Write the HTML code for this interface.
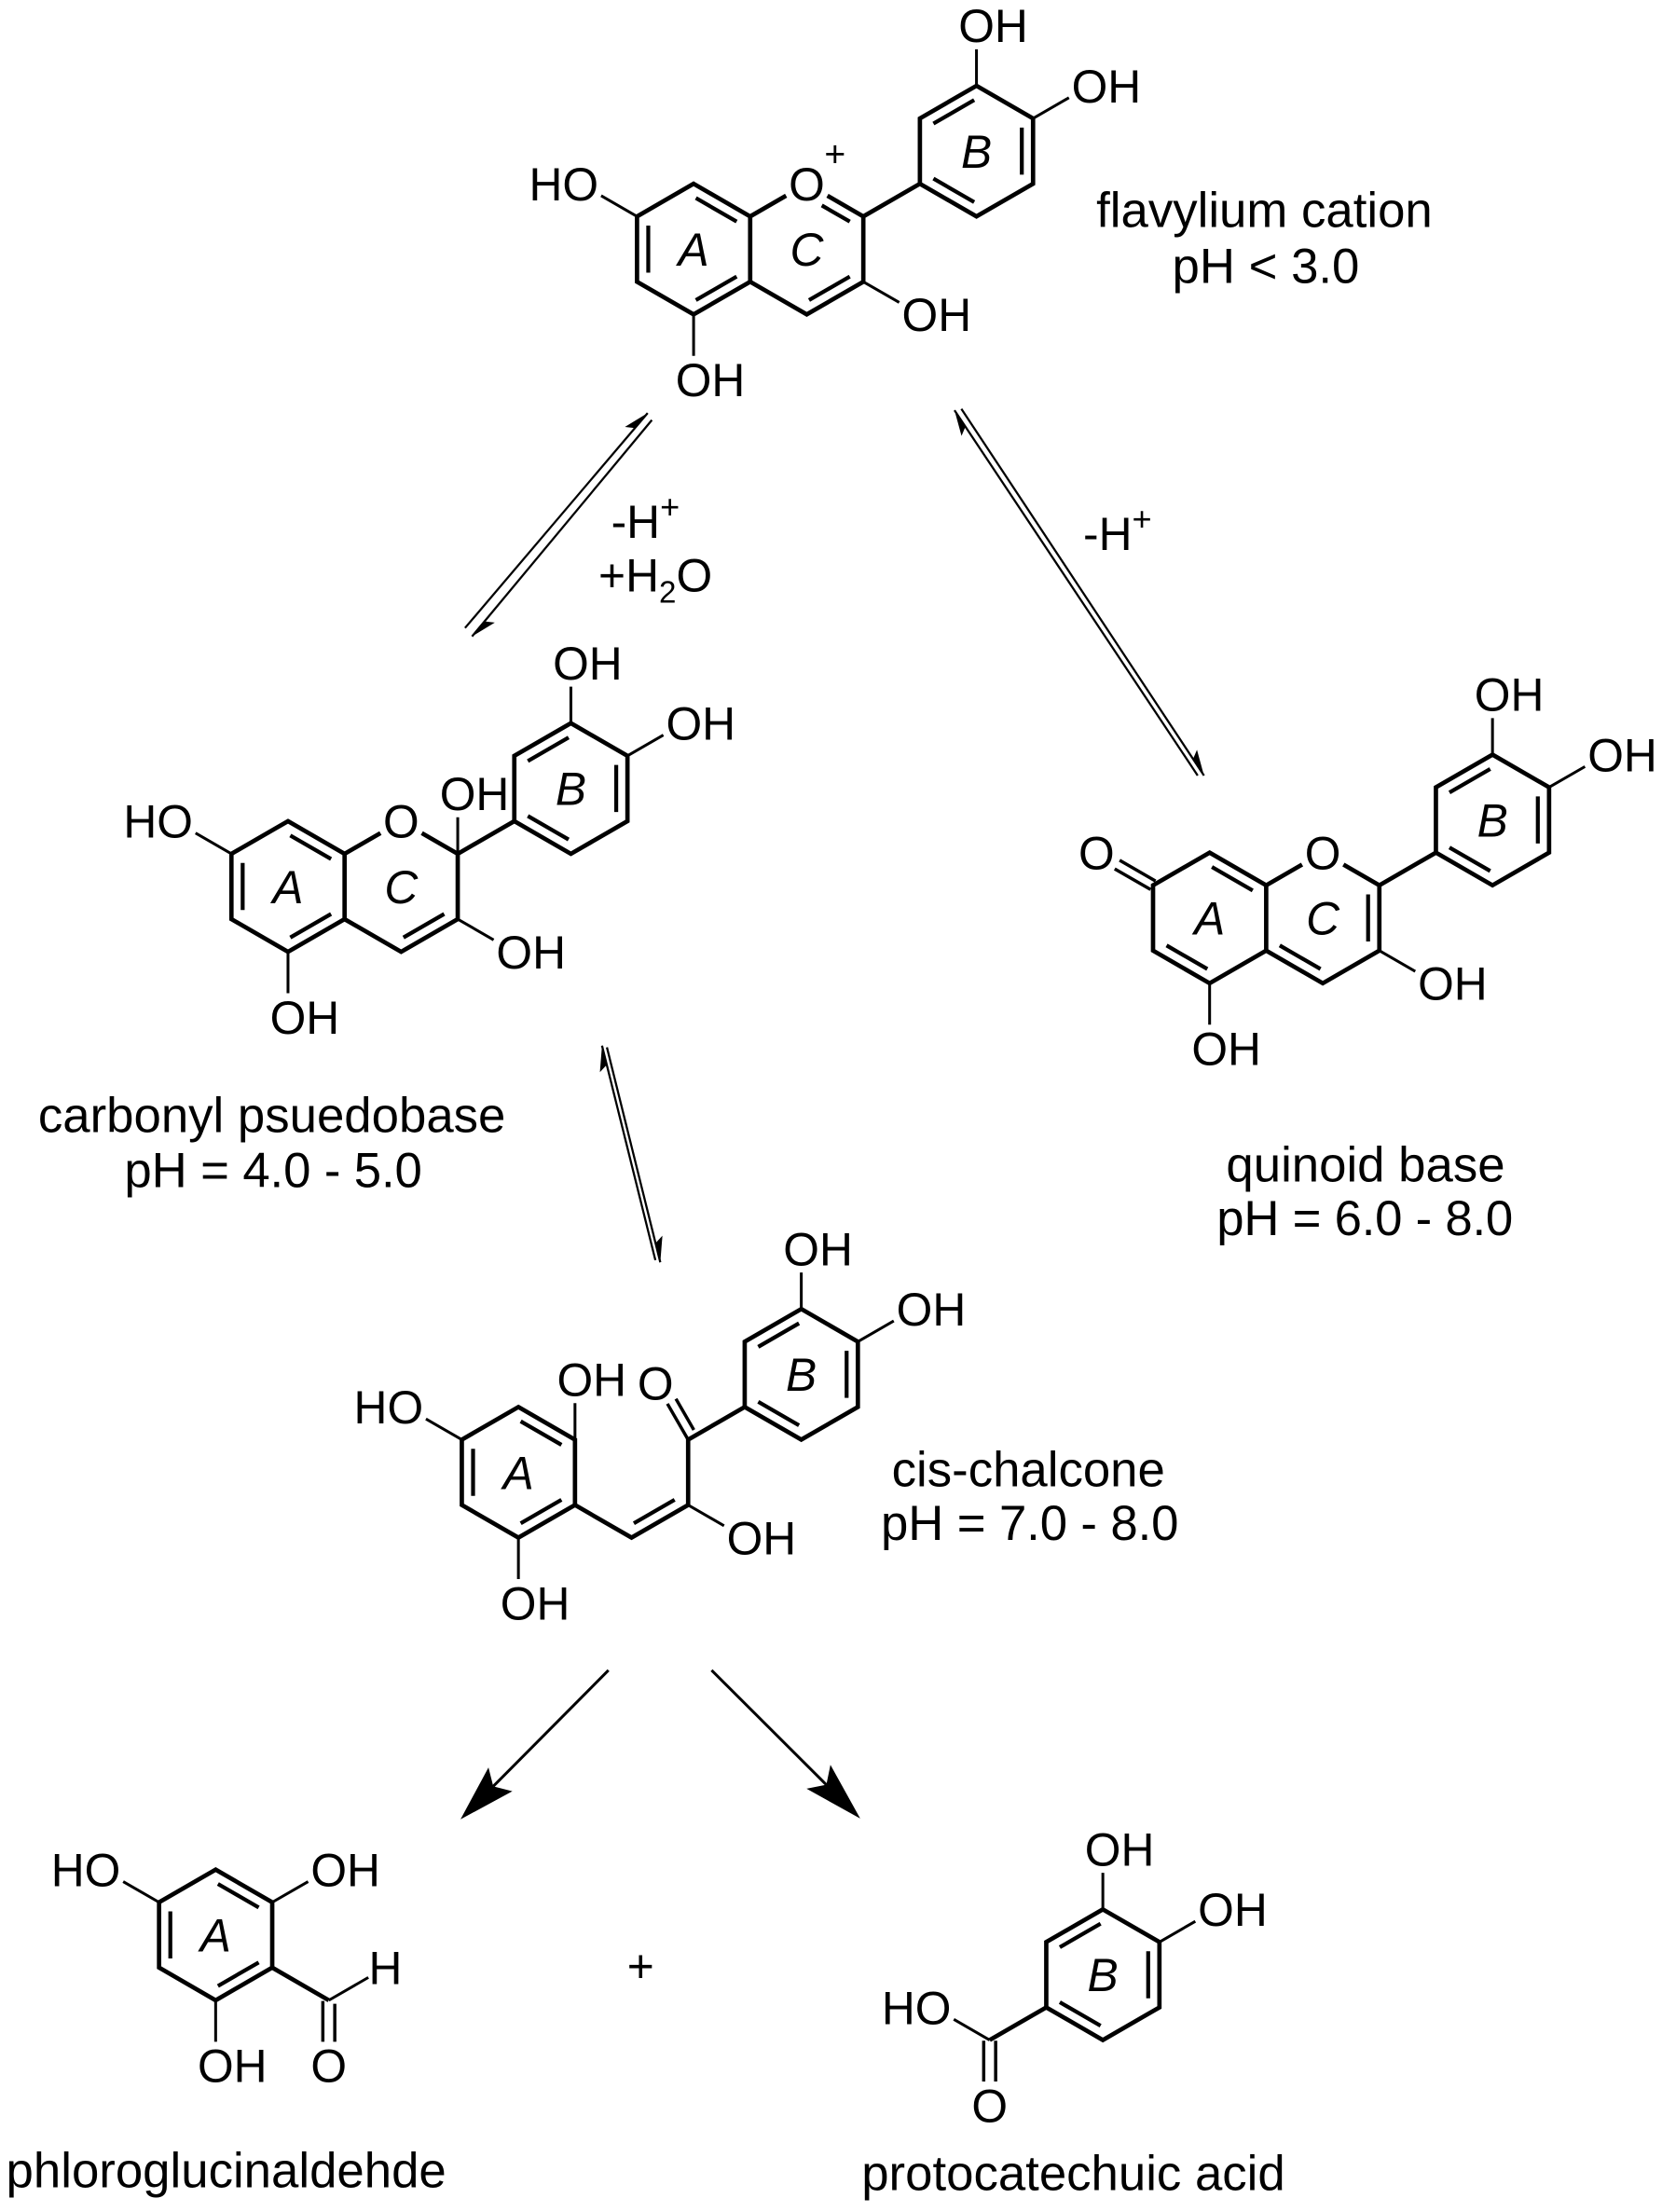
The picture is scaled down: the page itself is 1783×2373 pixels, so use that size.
<!DOCTYPE html>
<html><head><meta charset="utf-8">
<style>
html,body{margin:0;padding:0;background:#fff;}
svg{display:block;}
text{font-family:"Liberation Sans",Arial,sans-serif;fill:#000;}
.b{stroke:#000;stroke-width:3.1;fill:none;stroke-linejoin:miter;}
.t{stroke:#000;stroke-width:2.0;fill:none;}
.i{stroke:#000;stroke-width:2.8;fill:none;}
.ar{stroke:#000;stroke-width:1.5;fill:none;}
.ab{stroke:#000;stroke-width:2.0;fill:none;}
.a{font-size:33px;}
.l{font-size:35px;}
.r{font-size:33px;font-style:italic;}
</style></head>
<body>
<svg width="1783" height="2373" viewBox="0 0 1183 1574.5" preserveAspectRatio="none" xmlns="http://www.w3.org/2000/svg">
<rect x="0" y="0" width="1183" height="1574.5" fill="#fff"/>

<!-- Flavylium cation -->
<g transform="translate(493.7,177.3)">
  <path class="b" d="M0,-46.5 L40.27,-23.25 L40.27,23.25 L0,46.5 L-40.27,23.25 L-40.27,-23.25 Z"/>
  <path class="b" transform="translate(201.35,-69.75)" d="M0,-46.5 L40.27,-23.25 L40.27,23.25 L0,46.5 L-40.27,23.25 L-40.27,-23.25 Z"/>
  <path class="b" d="M40.27,-23.25 L65.82,-38 M95.26,-38 L120.81,-23.25 L120.81,23.25 L80.54,46.5 L40.27,23.25 M120.81,-23.25 L161.08,-46.5"/>
  <path class="i" d="M-32.27,16.75 L-32.27,-16.75 M1.63,-36.32 L30.64,-19.57 M30.64,19.57 L1.63,36.32"/>
  <path class="i" d="M91.26,-31.07 L111.18,-19.57 M111.18,19.57 L82.17,36.32"/>
  <path class="i" d="M170.71,-89.32 L199.72,-106.07 M233.62,-86.5 L233.62,-53 M199.72,-33.43 L170.71,-50.18"/>
  <path class="t" d="M-40.27,-23.25 L-65.82,-38 M0,46.5 L0,76 M120.81,23.25 L146.36,38 M201.35,-116.25 L201.35,-142.25 M241.62,-93 L267.17,-107.75"/>
  <text class="a" x="-67.7" y="-34.7" text-anchor="end">HO</text>
  <text class="a" x="-12.84" y="104.8">OH</text>
  <text class="a" x="148.24" y="58.3">OH</text>
  <text class="a" x="188.51" y="-147.45">OH</text>
  <text class="a" x="269.05" y="-104.45">OH</text>
  <text class="a" x="80.54" y="-34.7" text-anchor="middle">O</text>
  <text x="100.7" y="-58.8" text-anchor="middle" style="font-size:26px">+</text>
  <text class="r" x="0" y="11.8" text-anchor="middle">A</text>
  <text class="r" x="80.54" y="11.8" text-anchor="middle">C</text>
  <text class="r" x="201.35" y="-57.95" text-anchor="middle">B</text>
</g>
<text class="l" x="900" y="161.5" text-anchor="middle">flavylium cation</text>
<text class="l" x="901" y="201.5" text-anchor="middle">pH &lt; 3.0</text>

<!-- Equilibrium arrows left -->
<line class="ar" x1="331" y1="447" x2="461" y2="294"/>
<polygon points="461,294 444.8,303.9 452,304.7" fill="#000"/>
<line class="ar" x1="336" y1="453" x2="464" y2="299"/>
<polygon points="336,453 352.2,443.1 345,442.3" fill="#000"/>
<text class="a" x="435" y="383">-H<tspan style="font-size:24px" dy="-14">+</tspan></text>
<text class="a" x="426" y="421">+H<tspan style="font-size:22px" dy="8">2</tspan><tspan dy="-8">O</tspan></text>

<!-- Equilibrium arrows right -->
<line class="ar" x1="679.4" y1="292" x2="852.5" y2="552"/>
<polygon points="679.4,292 684.4,310.3 687.2,303.7" fill="#000"/>
<line class="ar" x1="684.3" y1="291" x2="857" y2="552"/>
<polygon points="857,552 852,533.7 849.2,540.3" fill="#000"/>
<text class="a" x="771" y="391.5">-H<tspan style="font-size:24px" dy="-14">+</tspan></text>

<!-- Carbonyl pseudobase -->
<g transform="translate(205,631)">
  <path class="b" d="M0,-46.5 L40.27,-23.25 L40.27,23.25 L0,46.5 L-40.27,23.25 L-40.27,-23.25 Z"/>
  <path class="b" transform="translate(201.35,-69.75)" d="M0,-46.5 L40.27,-23.25 L40.27,23.25 L0,46.5 L-40.27,23.25 L-40.27,-23.25 Z"/>
  <path class="b" d="M40.27,-23.25 L65.82,-38 M95.26,-38 L120.81,-23.25 L120.81,23.25 L80.54,46.5 L40.27,23.25 M120.81,-23.25 L161.08,-46.5"/>
  <path class="i" d="M-32.27,16.75 L-32.27,-16.75 M1.63,-36.32 L30.64,-19.57 M30.64,19.57 L1.63,36.32"/>
  <path class="i" d="M111.18,19.57 L82.17,36.32"/>
  <path class="i" d="M170.71,-89.32 L199.72,-106.07 M233.62,-86.5 L233.62,-53 M199.72,-33.43 L170.71,-50.18"/>
  <path class="t" d="M-40.27,-23.25 L-65.82,-38 M0,46.5 L0,76 M120.81,23.25 L146.36,38 M201.35,-116.25 L201.35,-142.25 M241.62,-93 L267.17,-107.75 M120.81,-23.25 L120.81,-49.25"/>
  <text class="a" x="-67.7" y="-34.7" text-anchor="end">HO</text>
  <text class="a" x="-12.84" y="104.8">OH</text>
  <text class="a" x="148.24" y="58.3">OH</text>
  <text class="a" x="188.51" y="-147.45">OH</text>
  <text class="a" x="269.05" y="-104.45">OH</text>
  <text class="a" x="107.97" y="-54.45">OH</text>
  <text class="a" x="80.54" y="-34.7" text-anchor="middle">O</text>
  <text class="r" x="0" y="11.8" text-anchor="middle">A</text>
  <text class="r" x="80.54" y="11.8" text-anchor="middle">C</text>
  <text class="r" x="201.35" y="-57.95" text-anchor="middle">B</text>
</g>
<text class="l" x="193.5" y="806" text-anchor="middle">carbonyl psuedobase</text>
<text class="l" x="194.5" y="845" text-anchor="middle" textLength="212" lengthAdjust="spacing">pH = 4.0 - 5.0</text>

<!-- Quinoid base -->
<g transform="translate(861,653.4)">
  <path class="b" d="M0,-46.5 L40.27,-23.25 L40.27,23.25 L0,46.5 L-40.27,23.25 L-40.27,-23.25 Z"/>
  <path class="b" transform="translate(201.35,-69.75)" d="M0,-46.5 L40.27,-23.25 L40.27,23.25 L0,46.5 L-40.27,23.25 L-40.27,-23.25 Z"/>
  <path class="b" d="M40.27,-23.25 L65.82,-38 M95.26,-38 L120.81,-23.25 L120.81,23.25 L80.54,46.5 L40.27,23.25 M120.81,-23.25 L161.08,-46.5"/>
  <path class="i" d="M1.63,-36.32 L30.64,-19.57 M-1.63,36.32 L-30.64,19.57"/>
  <path class="i" d="M112.81,-16.75 L112.81,16.75 M78.91,36.32 L49.9,19.57"/>
  <path class="i" d="M170.71,-89.32 L199.72,-106.07 M233.62,-86.5 L233.62,-53 M199.72,-33.43 L170.71,-50.18"/>
  <path class="t" style="stroke-width:2.3" d="M-38.52,-26.28 L-64.07,-41.03 M-42.02,-20.22 L-67.57,-34.97"/>
  <path class="t" d="M0,46.5 L0,76 M120.81,23.25 L146.36,38 M201.35,-116.25 L201.35,-142.25 M241.62,-93 L267.17,-107.75"/>
  <text class="a" x="-80.54" y="-34.7" text-anchor="middle">O</text>
  <text class="a" x="-12.84" y="104.8">OH</text>
  <text class="a" x="148.24" y="58.3">OH</text>
  <text class="a" x="188.51" y="-147.45">OH</text>
  <text class="a" x="269.05" y="-104.45">OH</text>
  <text class="a" x="80.54" y="-34.7" text-anchor="middle">O</text>
  <text class="r" x="0" y="11.8" text-anchor="middle">A</text>
  <text class="r" x="80.54" y="11.8" text-anchor="middle">C</text>
  <text class="r" x="201.35" y="-57.95" text-anchor="middle">B</text>
</g>
<text class="l" x="972" y="841" text-anchor="middle">quinoid base</text>
<text class="l" x="971.5" y="879" text-anchor="middle" textLength="211" lengthAdjust="spacing">pH = 6.0 - 8.0</text>

<!-- Middle equilibrium -->
<line class="ar" x1="428.5" y1="744.3" x2="466.5" y2="897"/>
<polygon points="428.5,744.3 427,763.2 431.9,757.9" fill="#000"/>
<line class="ar" x1="432" y1="745.5" x2="470" y2="898.5"/>
<polygon points="470,898.5 471.5,879.6 466.6,884.9" fill="#000"/>

<!-- cis-chalcone -->
<g transform="translate(369,1048)">
  <path class="b" d="M0,-46.5 L40.27,-23.25 L40.27,23.25 L0,46.5 L-40.27,23.25 L-40.27,-23.25 Z"/>
  <path class="b" transform="translate(201.35,-69.75)" d="M0,-46.5 L40.27,-23.25 L40.27,23.25 L0,46.5 L-40.27,23.25 L-40.27,-23.25 Z"/>
  <path class="b" d="M40.27,23.25 L80.54,46.5 L120.81,23.25 L120.81,-23.25 L161.08,-46.5"/>
  <path class="i" d="M-32.27,16.75 L-32.27,-16.75 M1.63,-36.32 L30.64,-19.57 M30.64,19.57 L1.63,36.32"/>
  <path class="i" d="M111.18,19.57 L82.17,36.32"/>
  <path class="i" d="M170.71,-89.32 L199.72,-106.07 M233.62,-86.5 L233.62,-53 M199.72,-33.43 L170.71,-50.18"/>
  <path class="t" d="M-40.27,-23.25 L-65.82,-38 M40.27,-23.25 L40.27,-49.25 M0,46.5 L0,76 M120.81,23.25 L146.36,38 M201.35,-116.25 L201.35,-142.25 M241.62,-93 L267.17,-107.75"/>
  <path class="t" style="stroke-width:2.3" d="M120.81,-23.25 L106.06,-48.8 M124.87,-30.21 L112.12,-52.3"/>
  <text class="a" x="-67.7" y="-34.7" text-anchor="end">HO</text>
  <text class="a" x="27.43" y="-54.45">OH</text>
  <text class="a" x="97.56" y="-51.72" text-anchor="middle">O</text>
  <text class="a" x="-12.84" y="104.8">OH</text>
  <text class="a" x="148.24" y="58.3">OH</text>
  <text class="a" x="188.51" y="-147.45">OH</text>
  <text class="a" x="269.05" y="-104.45">OH</text>
  <text class="r" x="0" y="11.8" text-anchor="middle">A</text>
  <text class="r" x="201.35" y="-57.95" text-anchor="middle">B</text>
</g>
<text class="l" x="732" y="1058" text-anchor="middle">cis-chalcone</text>
<text class="l" x="733" y="1096" text-anchor="middle" textLength="212" lengthAdjust="spacing">pH = 7.0 - 8.0</text>

<!-- Bottom arrows -->
<line class="ab" x1="433.1" y1="1188.9" x2="351.1" y2="1271.5"/>
<polygon points="327.8,1295 347.7,1258.1 351.1,1271.5 364.7,1275" fill="#000"/>
<line class="ab" x1="506.5" y1="1188.9" x2="588.2" y2="1270.4"/>
<polygon points="612.3,1294.4 591.1,1256.2 588.2,1270.4 574.1,1273.2" fill="#000"/>

<!-- Phloroglucinaldehyde -->
<g transform="translate(153.5,1377.3)">
  <path class="b" d="M0,-46.5 L40.27,-23.25 L40.27,23.25 L0,46.5 L-40.27,23.25 L-40.27,-23.25 Z"/>
  <path class="b" d="M40.27,23.25 L80.54,46.5"/>
  <path class="i" d="M-32.27,16.75 L-32.27,-16.75 M1.63,-36.32 L30.64,-19.57 M30.64,19.57 L1.63,36.32"/>
  <path class="t" d="M-40.27,-23.25 L-65.82,-38 M40.27,-23.25 L65.82,-38 M0,46.5 L0,76 M80.54,46.5 L108.69,30.25"/>
  <path class="t" style="stroke-width:2.3" d="M76.3,47 L76.3,76 M84.8,49 L84.8,76"/>
  <text class="a" x="-67.7" y="-34.7" text-anchor="end">HO</text>
  <text class="a" x="67.7" y="-34.7">OH</text>
  <text class="a" x="-12.84" y="104.8">OH</text>
  <text class="a" x="120.81" y="35.05" text-anchor="middle">H</text>
  <text class="a" x="80.54" y="104.8" text-anchor="middle">O</text>
  <text class="r" x="0" y="11.8" text-anchor="middle">A</text>
</g>
<text class="a" x="456" y="1411" text-anchor="middle">+</text>

<!-- Protocatechuic acid -->
<g transform="translate(785,1405.6)">
  <path class="b" d="M0,-46.5 L40.27,-23.25 L40.27,23.25 L0,46.5 L-40.27,23.25 L-40.27,-23.25 Z"/>
  <path class="b" d="M-40.27,23.25 L-80.54,46.5"/>
  <path class="i" d="M-30.64,-19.57 L-1.63,-36.32 M32.27,-16.75 L32.27,16.75 M-1.63,36.32 L-30.64,19.57"/>
  <path class="t" d="M0,-46.5 L0,-72.5 M40.27,-23.25 L65.82,-38 M-80.54,46.5 L-106.09,31.75"/>
  <path class="t" style="stroke-width:2.3" d="M-84.8,47 L-84.8,76 M-76.3,47 L-76.3,76"/>
  <text class="a" x="-12.84" y="-77.7">OH</text>
  <text class="a" x="67.7" y="-34.7">OH</text>
  <text class="a" x="-107.97" y="35.05" text-anchor="end">HO</text>
  <text class="a" x="-80.54" y="104.8" text-anchor="middle">O</text>
  <text class="r" x="0" y="11.8" text-anchor="middle">B</text>
</g>

<text class="l" x="161" y="1557" text-anchor="middle">phloroglucinaldehde</text>
<text class="l" x="764" y="1559" text-anchor="middle">protocatechuic acid</text>
</svg>
</body></html>
